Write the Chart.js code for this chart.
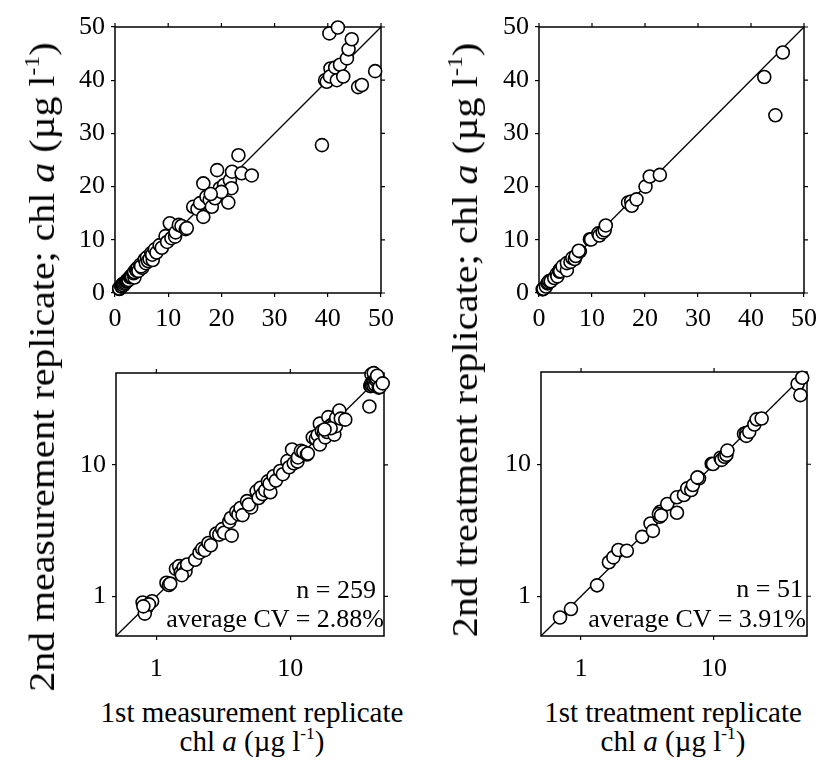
<!DOCTYPE html>
<html>
<head>
<meta charset="utf-8">
<script src="https://cdn.jsdelivr.net/npm/chart.js@4.4.1/dist/chart.umd.min.js"></script>
<style>
  body { margin:0; background:#fff; width:821px; height:763px; position:relative; overflow:hidden;
         font-family:'Liberation Serif','Times New Roman',serif; color:#000; }
  canvas { position:absolute; }
  .t { position:absolute; white-space:nowrap; }
  .sup { font-size:0.6em; vertical-align:0.7em; line-height:0; }
  .ytitle { font-size:36px; line-height:36px; transform-origin:center; }
  .xtitle { font-size:29px; line-height:29px; text-align:center; transform:translateX(-50%); }
  .note { font-size:26px; line-height:26px; text-align:right; transform:translateX(-100%); }
</style>
</head>
<body>
<canvas id="tl" width="362" height="316" style="left:45px;top:17px"></canvas>
<canvas id="tr" width="361" height="316" style="left:469px;top:17px"></canvas>
<canvas id="bl" width="364" height="313" style="left:46px;top:363px"></canvas>
<canvas id="br" width="362" height="314" style="left:471px;top:362px"></canvas>

<div class="t ytitle" id="yl" style="left:42px;top:367px">2nd measurement replicate; chl <i>a</i> (µg l<span class="sup">-1</span>)</div>
<div class="t ytitle" id="yr" style="left:465px;top:340px">2nd treatment replicate; chl <i>a</i> (µg l<span class="sup">-1</span>)</div>

<div class="t xtitle" style="left:252px;top:698px">1st measurement replicate<br>chl <i>a</i> (µg l<span class="sup">-1</span>)</div>
<div class="t xtitle" style="left:673px;top:698px">1st treatment replicate<br>chl <i>a</i> (µg l<span class="sup">-1</span>)</div>

<div class="t note" style="left:376px;top:577px">n = 259</div>
<div class="t note" style="left:384px;top:606px">average CV = 2.88%</div>
<div class="t note" style="left:803px;top:576px">n = 51</div>
<div class="t note" style="left:806px;top:606px">average CV = 3.91%</div>

<script>
// measurement replicates (n = 259, many overlap)
var measX = [0.79,0.84,0.93,0.82,0.88,0.80,1.19,1.24,1.27,1.40,1.48,1.52,1.60,1.65,1.55,1.70,
  1.95,2.10,2.20,2.30,2.45,2.55,2.80,2.95,3.10,3.20,3.65,3.50,3.60,3.95,4.10,4.25,4.40,4.75,5.10,4.90,
  5.60,5.80,6.00,6.20,6.50,7.10,6.80,7.00,7.50,7.80,8.40,8.80,9.50,9.80,10.3,10.6,11.3,11.4,12.0,12.5,13.3,13.5,
  14.7,15.5,16.0,16.6,16.6,17.2,17.8,18.2,18.8,19.2,19.7,20.5,21.3,21.6,21.9,22.0,23.2,23.8,25.7,20.0,18.0,
  38.9,39.5,39.8,40.3,40.5,40.4,41.4,41.7,41.9,42.3,42.9,43.6,43.9,44.5,45.7,46.4,48.9];
var measY = [0.90,0.81,0.92,0.74,0.87,0.84,1.27,1.22,1.25,1.62,1.70,1.52,1.66,1.55,1.45,1.75,
  1.90,2.15,2.30,2.25,2.55,2.45,3.00,2.95,3.25,3.05,2.90,3.70,3.95,4.40,4.20,4.70,4.15,5.30,4.75,5.00,
  6.30,5.60,6.70,6.00,6.40,6.20,7.50,7.20,8.20,7.60,9.00,8.50,10.7,9.60,13.1,10.3,10.6,11.4,12.8,12.6,12.0,12.2,
  16.2,15.8,16.9,20.6,14.3,18.1,17.5,16.2,17.8,23.1,19.7,20.3,17.0,21.2,19.7,22.8,25.9,22.5,22.1,19.0,18.6,
  27.8,40.0,39.7,48.8,42.2,40.7,42.4,40.0,49.9,42.9,40.7,44.1,45.8,47.7,38.7,39.1,41.7];

// treatment replicates (n = 51)
var treatX = [0.695,0.84,1.32,1.62,1.75,1.91,2.21,2.88,3.33,3.47,3.89,3.94,3.85,4.00,4.45,5.26,5.26,5.94,6.29,6.74,
  6.94,7.71,7.50,9.60,9.83,11.2,11.4,12.0,12.4,12.6,16.8,17.4,17.5,18.4,20.1,20.9,22.8,42.5,44.6,46.0];
var treatY = [0.69,0.80,1.21,1.81,1.97,2.24,2.21,2.82,3.56,3.13,4.00,4.37,4.20,4.10,5.00,4.29,5.62,5.85,6.57,6.38,
  6.96,7.83,7.95,10.1,10.05,11.2,10.8,11.4,11.8,12.7,17.0,17.2,16.4,17.6,20.0,21.9,22.2,40.6,33.4,45.2];

var linTicks = [0,10,20,30,40,50];
var logTicks = [1,10];
var linRange = [0,50];
var logRange = [0.5,50];

var serif = 'Liberation Serif';

// frame + mirrored ticks on top and right
var frame = {
  id: 'frame',
  beforeDatasetsDraw: function(chart) {
    var ctx = chart.ctx, a = chart.chartArea, x = chart.scales.x, y = chart.scales.y;
    ctx.save();
    ctx.strokeStyle = '#000';
    ctx.lineWidth = 1.5;
    ctx.strokeRect(a.left, a.top, a.right - a.left, a.bottom - a.top);
    ctx.lineWidth = 1.2;
    ctx.beginPath();
    x.ticks.forEach(function(t) {
      var p = x.getPixelForValue(t.value);
      ctx.moveTo(p, a.top); ctx.lineTo(p, a.top - 4);
    });
    y.ticks.forEach(function(t) {
      var p = y.getPixelForValue(t.value);
      ctx.moveTo(a.right, p); ctx.lineTo(a.right + 4, p);
    });
    ctx.stroke();
    ctx.restore();
  }
};

function axis(type, range, tickVals, horiz) {
  return {
    type: type,
    min: range[0], max: range[1],
    afterBuildTicks: function(s) { s.ticks = tickVals.map(function(v) { return {value: v}; }); },
    afterFit: function(s) {
      if (horiz) { s.height = 40; s.paddingLeft = 0; s.paddingRight = 0; }
      else { s.width = 70; s.paddingTop = 0; s.paddingBottom = 0; }
    },
    border: {display: false},
    grid: {drawOnChartArea: false, drawTicks: true, tickLength: 4, color: '#000', lineWidth: 1.2},
    ticks: {
      color: '#000', font: {family: serif, size: 26},
      padding: horiz ? (type === 'logarithmic' ? 14 : 7) : 6,
      maxRotation: 0, autoSkip: false,
      callback: function(v) { return String(v); }
    }
  };
}

function makeChart(id, xs, ys, type) {
  var range = type === 'logarithmic' ? logRange : linRange;
  var tickVals = type === 'logarithmic' ? logTicks : linTicks;
  var pts = xs.map(function(v, i) { return {x: v, y: ys[i]}; });
  new Chart(document.getElementById(id), {
    type: 'scatter',
    data: {
      datasets: [
        {
          data: pts, order: 1, clip: false,
          pointRadius: 6.5, pointBorderWidth: 1.6,
          pointBackgroundColor: '#fff', pointBorderColor: '#000'
        },
        {
          type: 'line', order: 2,
          data: [{x: range[0], y: range[0]}, {x: range[1], y: range[1]}],
          borderColor: '#000', borderWidth: 1.3, pointRadius: 0, fill: false
        }
      ]
    },
    options: {
      responsive: false, animation: false, devicePixelRatio: 1,
      layout: {autoPadding: false, padding: {top: 10, right: 26, left: 0, bottom: 0}},
      plugins: {legend: {display: false}, tooltip: {enabled: false}},
      scales: {
        x: axis(type, range, tickVals, true),
        y: axis(type, range, tickVals, false)
      }
    },
    plugins: [frame]
  });
}

makeChart('tl', measX, measY, 'linear');
makeChart('tr', treatX, treatY, 'linear');
makeChart('bl', measX, measY, 'logarithmic');
makeChart('br', treatX, treatY, 'logarithmic');

// rotate the long y titles and stretch them to the length they have in the figure
[['yl', 650], ['yr', 595]].forEach(function(p) {
  var el = document.getElementById(p[0]);
  var k = p[1] / el.offsetWidth;
  el.style.transform = 'translate(-50%,-50%) rotate(-90deg) scaleX(' + k.toFixed(3) + ')';
});
</script>
</body>
</html>
